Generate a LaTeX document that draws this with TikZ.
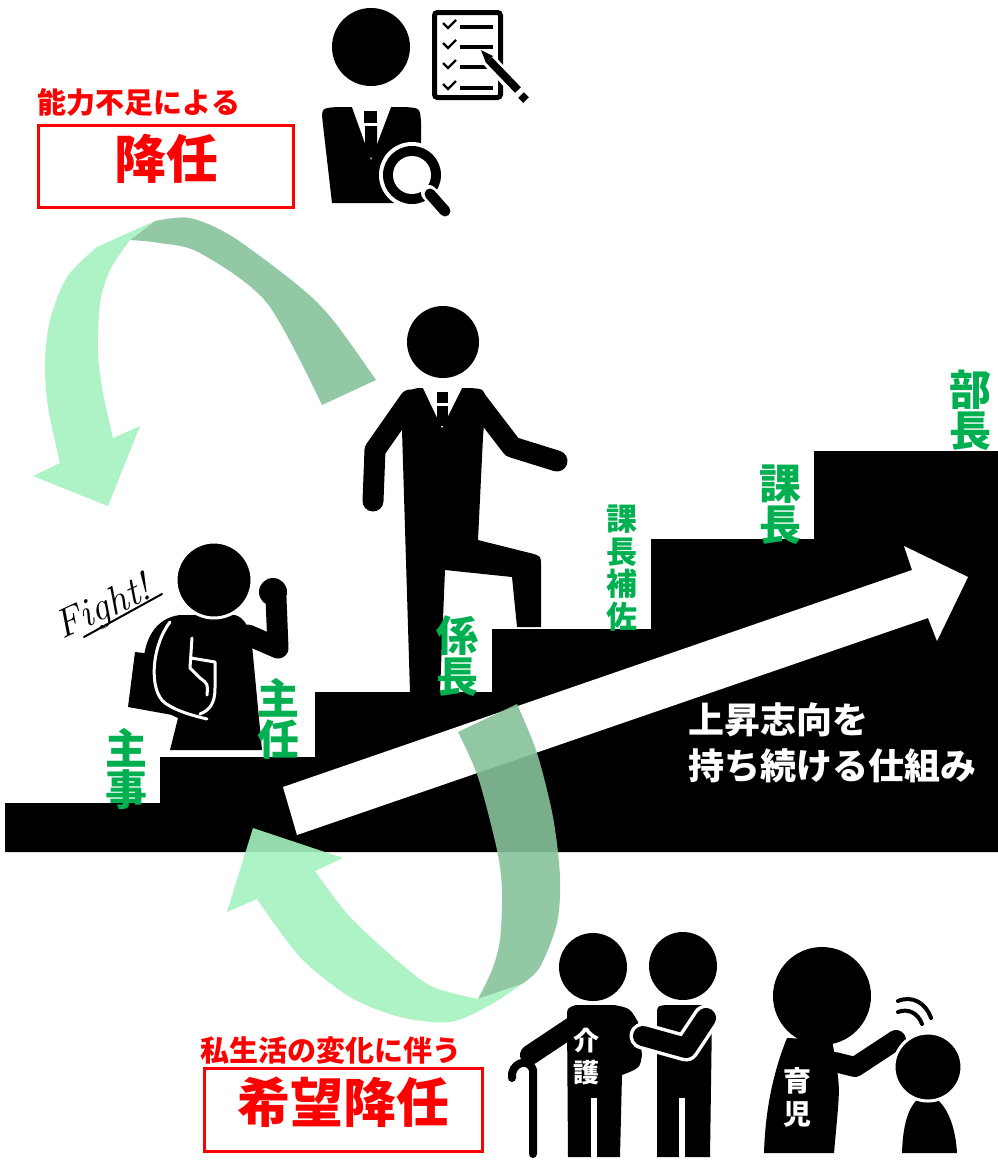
\documentclass[tikz,border=0pt]{standalone}
\usepackage{fontspec}
\newfontfamily\jp{Noto Sans CJK JP}
\usetikzlibrary{calc}
\definecolor{rankgreen}{RGB}{0,176,80}
\definecolor{alertred}{RGB}{255,0,0}
\definecolor{ribbonback}{RGB}{134,194,153}
\definecolor{ribbonfront}{RGB}{164,242,191}
\begin{document}
\begin{tikzpicture}[x=1pt,y=-1pt,
  rank/.style={text=rankgreen, inner sep=0pt, align=center},
  bigrank/.style={rank, font=\jp\bfseries\fontsize{42}{41}\selectfont},
  smallrank/.style={rank, font=\jp\bfseries\fontsize{31}{32.5}\selectfont},
  caption/.style={text=alertred, inner sep=0pt, font=\jp\bfseries\fontsize{29}{30}\selectfont},
  verdict/.style={text=alertred, inner sep=0pt, font=\jp\bfseries\fontsize{52}{54}\selectfont},
  redframe/.style={draw=alertred, line width=3pt},
  limb/.style={line width=21pt, line cap=round, line join=round},
  onfigure/.style={text=white, inner sep=0pt, align=center, font=\jp\bfseries\fontsize{26}{32}\selectfont},
  back/.style={fill=ribbonback, fill opacity=0.9},
  front/.style={fill=ribbonfront, fill opacity=0.9},
  sketch/.style={white, line width=3pt, line cap=round, line join=round},
]
\useasboundingbox (0,0) rectangle (998,1160);

% ---------- staircase ----------
\fill[black] (5,803) -- (160,803) -- (160,757) -- (315,757) -- (315,692) -- (492,692)
  -- (492,629) -- (651,629) -- (651,539) -- (814,539) -- (814,451) -- (998,451)
  -- (998,852) -- (5,852) -- cycle;

% ---------- rising arrow ----------
\fill[white] (283,787) -- (912,570) -- (904,546) -- (968,577) -- (937,641) -- (928,618) -- (297,835) -- cycle;
\node[anchor=west, text=white, inner sep=0pt, align=left,
      font=\jp\bfseries\fontsize{36}{46}\selectfont] (motto) at (688,743) {上昇志向を\\持ち続ける仕組み};

% ---------- inspector with magnifier and checklist ----------
\fill (371,47) circle (39);
\fill (332,203) -- (323,125) .. controls (321,108) .. (338,107) -- (405,107)
  .. controls (420,108) .. (421,122) -- (421,150) -- (395,203) -- cycle;
\fill[white] (352,107) -- (391,107) -- (371,160) -- cycle;
\fill (364,111) rectangle (377,123);
\fill (365,126) -- (377,126) -- (377,152) -- (371,158) -- (365,152) -- cycle;
\fill[white] (412,175) circle (33);
\fill (412,175) circle (29);
\fill[white] (412,175) circle (19);
\draw[white, line width=16pt, line cap=round] (429,193) -- (444,210);
\draw[line width=11pt, line cap=round] (430,194) -- (445,211);
\draw[line width=5pt, rounded corners=3pt] (434.5,12.5) rectangle (500.5,97.5);
\foreach \yy in {25,45,65,86} {
  \draw[line width=2.4pt] (443,\yy-2) -- (448,\yy+3) -- (456,\yy-5);
  \draw[line width=3.2pt] (460,\yy+2) -- (493,\yy+2);
}
\draw[white, line width=14pt] (486,57) -- (525,99);
\fill (481,50) -- (493,56) -- (486,63) -- cycle;
\draw[line width=8pt] (489,60) -- (518,90);
\draw[line width=8pt] (521,95) -- (526,100);

% ---------- climbing employee ----------
\fill (443,342) circle (36);
\fill (410,692) -- (402,430) .. controls (401,392) .. (418,388) -- (470,388)
  .. controls (484,389) .. (486,400) -- (483,437) -- (478,540) -- (530,553)
  .. controls (541,556) .. (541,565) -- (541,627) -- (517,627) -- (512,577)
  -- (445,570) -- (440,692) -- cycle;
\draw[limb] (410,400) -- (375,450) -- (373,501);
\draw[limb] (476,400) -- (512,447) -- (557,461);
\fill[white] (423,388) -- (462,388) -- (442,428) -- cycle;
\fill (437,392) rectangle (448,403);
\fill (437,406) rectangle (448,426);

% ---------- cheering employee with bag ----------
\fill (135,652) -- (160,655) -- (200,712) -- (206,721) -- (128,707) -- cycle;
\fill (170,750) -- (178,718) -- (150,705) -- (143,670) .. controls (143,640) and (155,618) .. (180,615)
  -- (235,615) .. controls (245,618) and (250,628) .. (252,645) -- (262,750) -- cycle;
\draw[limb, line width=21pt] (248,635) -- (278,648) -- (276,598);
\fill (273,592) circle (14);
\draw[sketch] (170,622) .. controls (152,645) and (148,690) .. (165,703) .. controls (178,712) and (195,716) .. (207,719);
\draw[sketch] (192,638) -- (190,668) -- (200,678) .. controls (208,684) .. (207,695);
\draw[sketch] (191,658) -- (215,662) -- (215,688) .. controls (215,703) and (210,710) .. (200,714);
\filldraw[fill=black, draw=white, line width=3pt] (214,580) circle (38);
\node[rotate=25, inner sep=0pt, font=\itshape\fontsize{40}{40}\selectfont] (fight) at (104,609) {Fight!};
\draw[line width=2pt, line cap=round] (84,637) -- (162,594);

% ---------- rank labels ----------
\node[bigrank] (shuji) at (126,769) {主\\事};
\node[bigrank] (shunin) at (278,719) {主\\任};
\node[bigrank] (kakaricho) at (457,656) {係\\長};
\node[smallrank] (hosa) at (622,568) {課\\長\\補\\佐};
\node[bigrank] (kacho) at (780,505) {課\\長};
\node[bigrank] (bucho) at (970,410) {部\\長};

% ---------- demotion for lack of ability (upper loop) ----------
\fill[back] (376,380) -- plot[smooth] coordinates {(376,380) (333,320) (300,287) (233,237) (190,218) (155,221)}
  -- (130,240) -- plot[smooth] coordinates {(130,240) (160,243) (200,253) (267,303) (322,405)} -- cycle;
\fill[front] (97,247) -- (155,221) -- (130,240)
  -- plot[smooth] coordinates {(130,240) (110,270) (100,303) (98,353) (103,393) (113,438)}
  -- (140,426) -- (108,506) -- (33,476) -- (60,463)
  -- plot[smooth] coordinates {(60,463) (48,407) (45,363) (50,320) (67,277) (97,247)} -- cycle;

\node[caption] (cause1) at (139,102) {能力不足による};
\draw[redframe] (38.5,125.5) rectangle (293.5,207.5);
\node[verdict] (demote) at (166,159) {降任};

% ---------- voluntary demotion (lower loop) ----------
\fill[back] (458,732) -- (517,704)
  -- plot[smooth] coordinates {(517,704) (537,753) (553,817) (560,877) (557,923) (540,967) (522,984)}
  -- (478,999)
  -- plot[smooth] coordinates {(478,999) (492,970) (500,940) (502,890) (497,850) (478,777) (458,732)} -- cycle;
\fill[front] (478,999) -- (522,984)
  -- plot[smooth] coordinates {(522,984) (490,1005) (450,1022) (400,1017) (350,997) (300,957) (257,899)}
  -- (227,912) -- (253,828) -- (343,858) -- (315,871)
  -- plot[smooth] coordinates {(315,871) (350,917) (400,963) (433,987) (478,999)} -- cycle;

\node[caption] (cause2) at (331,1050) {私生活の変化に伴う};
\draw[redframe] (204.5,1068.5) rectangle (482.5,1151.5);
\node[verdict, font=\jp\bfseries\fontsize{53}{54}\selectfont] (request) at (343,1102) {希望降任};

% ---------- nursing care ----------
\fill (593,967) circle (34);
\fill (568,1157) -- (567,1017) .. controls (567,1008) .. (576,1005) -- (614,1005)
  .. controls (630,1008) .. (638,1022) -- (642,1055) .. controls (640,1068) .. (622,1075)
  -- (620,1157) -- cycle;
\draw[white, line width=6pt] (593.5,1098) -- (593.5,1160);
\draw[limb, line width=20pt] (575,1025) -- (530,1055);
\draw[line width=8pt, line cap=round] (512,1078) .. controls (510,1064) and (528,1056) .. (533,1070) -- (533,1154);
\fill (683,966) circle (34);
\fill (657,1157) -- (657,1015) .. controls (657,1006) .. (666,1005) -- (703,1005)
  .. controls (712,1006) .. (712,1015) -- (710,1157) -- cycle;
\draw[white, line width=6pt] (681.5,1098) -- (681.5,1160);
\draw[white, line width=27pt, line cap=round, line join=round] (706,1018) -- (686,1048) -- (643,1036);
\draw[limb, line width=20pt] (706,1018) -- (686,1048) -- (643,1036);
\node[onfigure] (kaigo) at (586,1057) {介\\護};

% ---------- child care ----------
\fill (822,996) circle (49);
\fill (787,1038) .. controls (770,1080) and (765,1120) .. (764,1153) -- (834,1153)
  -- (837,1120) .. controls (840,1085) .. (832,1040) -- cycle;
\draw[limb, line width=20pt] (835,1062) -- (855,1067) -- (896,1040);
\fill (902,1153) .. controls (903,1120) and (910,1100) .. (927,1093) .. controls (944,1100) and (955,1120) .. (957,1153) -- cycle;
\filldraw[fill=black, draw=white, line width=3pt] (928,1067) circle (34);
\draw[line width=4pt, line cap=round] (898,1001) .. controls (912,995) and (926,1003) .. (931,1018);
\draw[line width=4pt, line cap=round] (898,1012) .. controls (908,1008) and (918,1013) .. (922,1024);
\node[onfigure, font=\jp\bfseries\fontsize{28}{33}\selectfont] (ikuji) at (797,1097) {育\\児};
\end{tikzpicture}
\end{document}
